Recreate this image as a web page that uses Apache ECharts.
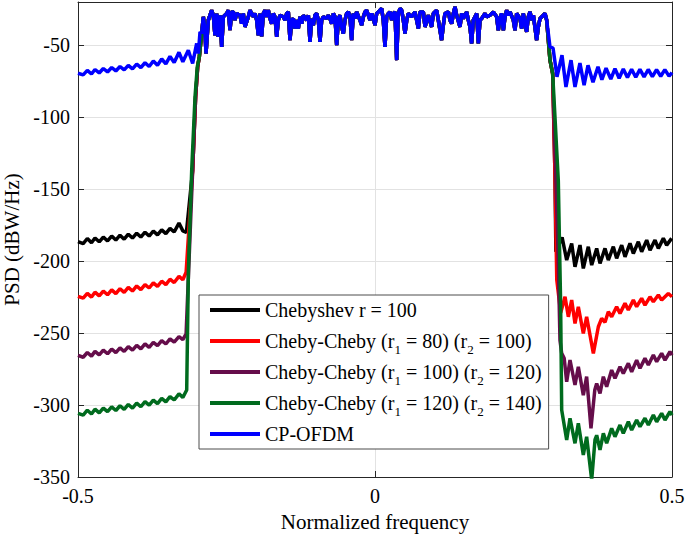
<!DOCTYPE html>
<html><head><meta charset="utf-8">
<script src="https://cdn.jsdelivr.net/npm/echarts@6/dist/echarts.min.js"></script>
<style>html,body{margin:0;padding:0;background:#fff}#c{width:685px;height:538px}</style>
</head><body><div id="c"></div>
<script>
// ---- axis ticks ----
const xTicks = [-0.5, 0, 0.5];
const yTicks = [-350, -300, -250, -200, -150, -100, -50];
const yTop = -20;

// ---- series names / legend labels ----
const seriesNames = ['Chebyshev r = 100', 'Cheby-Cheby (r1 = 80) (r2 = 100)', 'Cheby-Cheby (r1 = 100) (r2 = 120)', 'Cheby-Cheby (r1 = 120) (r2 = 140)', 'CP-OFDM'];
const legendLabels = ['Chebyshev r = 100', 'Cheby-Cheby (r{s|1} = 80) (r{s|2} = 100)', 'Cheby-Cheby (r{s|1} = 100) (r{s|2} = 120)', 'Cheby-Cheby (r{s|1} = 120) (r{s|2} = 140)', 'CP-OFDM'];
const seriesColors = ['#000000', '#ff0000', '#650d4a', '#006b1e', '#0000ff'];

// ---- shared passband (normalized frequency, dBW/Hz) ----
const passbandNeg = [[-0.2918,-41.9],[-0.2890,-30.3],[-0.2862,-40.0],[-0.2845,-55.8],[-0.2806,-32.6],[-0.2750,-25.7],[-0.2722,-29.2],[-0.2694,-43.1],[-0.2666,-28.0],[-0.2638,-44.2],[-0.2610,-29.2],[-0.2581,-51.2],[-0.2553,-30.3],[-0.2497,-28.0],[-0.2469,-25.7],[-0.2441,-39.6],[-0.2413,-26.9],[-0.2385,-26.9],[-0.2357,-32.6],[-0.2329,-28.0],[-0.2273,-29.2],[-0.2245,-35.0],[-0.2217,-28.0],[-0.2189,-37.3],[-0.2161,-33.8],[-0.2132,-30.3],[-0.2104,-25.7],[-0.2048,-30.3],[-0.2020,-28.0],[-0.1992,-32.6],[-0.1964,-43.1],[-0.1936,-28.0],[-0.1908,-43.8],[-0.1880,-28.0],[-0.1852,-25.7],[-0.1824,-30.3],[-0.1796,-25.7],[-0.1768,-31.5],[-0.1740,-35.0],[-0.1712,-28.0],[-0.1684,-30.3],[-0.1655,-44.2],[-0.1627,-32.6],[-0.1599,-29.2],[-0.1543,-30.3],[-0.1515,-32.6],[-0.1487,-28.0],[-0.1459,-26.9],[-0.1431,-46.5],[-0.1403,-32.6],[-0.1375,-31.5],[-0.1347,-38.4],[-0.1319,-32.6],[-0.1291,-38.4],[-0.1263,-30.3],[-0.1235,-35.0],[-0.1207,-29.2],[-0.1150,-32.6],[-0.1122,-29.2],[-0.1094,-47.7],[-0.1066,-31.5],[-0.1038,-36.1],[-0.1010,-29.2],[-0.0982,-28.0],[-0.0954,-32.6],[-0.0926,-47.7],[-0.0898,-32.6],[-0.0870,-30.3],[-0.0814,-31.5],[-0.0786,-29.2],[-0.0758,-31.5],[-0.0730,-35.0],[-0.0701,-28.0],[-0.0673,-30.3],[-0.0645,-50.0],[-0.0617,-31.5],[-0.0589,-29.2],[-0.0561,-37.3],[-0.0533,-41.9],[-0.0505,-32.6],[-0.0477,-28.0],[-0.0449,-26.9],[-0.0421,-30.3],[-0.0393,-46.5],[-0.0365,-28.0],[-0.0337,-31.5],[-0.0309,-26.9],[-0.0253,-32.6],[-0.0224,-36.1],[-0.0196,-30.3],[-0.0168,-26.9],[-0.0140,-25.7],[-0.0112,-29.2],[-0.0084,-32.6],[-0.0056,-28.0],[-0.0028,-31.5]];
const passbandPos = [[0.0000,-36.1],[0.0028,-28.0],[0.0056,-26.9],[0.0084,-25.7],[0.0112,-24.5],[0.0140,-32.6],[0.0168,-51.2],[0.0196,-30.3],[0.0224,-28.0],[0.0253,-26.9],[0.0281,-32.6],[0.0309,-28.0],[0.0337,-26.9],[0.0365,-60.4],[0.0393,-28.0],[0.0421,-24.5],[0.0449,-25.7],[0.0477,-32.6],[0.0505,-41.9],[0.0533,-33.0],[0.0561,-28.0],[0.0617,-30.3],[0.0673,-26.9],[0.0730,-38.4],[0.0758,-26.9],[0.0814,-26.9],[0.0842,-37.3],[0.0898,-29.2],[0.0954,-37.3],[0.0982,-28.0],[0.1038,-25.7],[0.1066,-32.6],[0.1122,-46.5],[0.1150,-36.1],[0.1178,-28.0],[0.1235,-26.9],[0.1263,-32.6],[0.1291,-35.0],[0.1319,-28.0],[0.1347,-23.4],[0.1375,-29.2],[0.1431,-37.3],[0.1459,-28.0],[0.1487,-31.5],[0.1543,-26.9],[0.1571,-32.6],[0.1599,-37.3],[0.1627,-48.8],[0.1655,-32.6],[0.1684,-30.3],[0.1712,-28.0],[0.1740,-48.8],[0.1768,-32.6],[0.1796,-31.5],[0.1852,-28.0],[0.1880,-30.3],[0.1936,-29.2],[0.1992,-26.9],[0.2048,-30.3],[0.2076,-39.6],[0.2104,-31.5],[0.2132,-28.0],[0.2161,-39.6],[0.2189,-30.3],[0.2217,-25.7],[0.2245,-29.2],[0.2273,-26.9],[0.2329,-32.6],[0.2357,-39.6],[0.2385,-28.0],[0.2441,-31.5],[0.2469,-38.4],[0.2497,-28.0],[0.2525,-35.0],[0.2553,-40.7],[0.2581,-30.3],[0.2610,-26.9],[0.2638,-32.6],[0.2666,-29.2],[0.2722,-46.5],[0.2750,-37.3],[0.2778,-31.5],[0.2834,-29.2],[0.2862,-28.0],[0.2890,-32.6]];

// ---- CP-OFDM out-of-band ----
const blueLeft = [[-0.5000,-69.5],[-0.4913,-70.6],[-0.4843,-67.5],[-0.4773,-70.0],[-0.4714,-66.9],[-0.4643,-69.3],[-0.4574,-66.2],[-0.4503,-68.6],[-0.4433,-65.5],[-0.4363,-67.9],[-0.4293,-64.8],[-0.4223,-67.2],[-0.4153,-64.0],[-0.4083,-66.4],[-0.4012,-63.1],[-0.3942,-65.6],[-0.3872,-62.2],[-0.3802,-64.8],[-0.3732,-61.0],[-0.3662,-63.9],[-0.3591,-59.6],[-0.3521,-63.0],[-0.3451,-57.8],[-0.3381,-62.0],[-0.3300,-55.0],[-0.3235,-61.5],[-0.3143,-53.5],[-0.3070,-62.7],[-0.3002,-48.8],[-0.2974,-55.8],[-0.2946,-40.8]];
const blueRight = [[0.2918,-41.9],[0.2946,-51.2],[0.2997,-52.0],[0.3064,-72.0],[0.3148,-57.0],[0.3215,-79.0],[0.3300,-60.4],[0.3367,-79.0],[0.3450,-62.5],[0.3520,-77.8],[0.3586,-64.0],[0.3670,-75.7],[0.3754,-65.0],[0.3820,-74.0],[0.3890,-66.0],[0.3970,-73.6],[0.4040,-66.3],[0.4110,-73.0],[0.4180,-66.5],[0.4250,-72.5],[0.4320,-66.7],[0.4390,-72.3],[0.4460,-66.8],[0.4530,-72.0],[0.4600,-66.9],[0.4670,-71.8],[0.4740,-67.0],[0.4810,-71.6],[0.4880,-67.0],[0.4950,-71.5],[0.5000,-69.0]];

// ---- filtered band edges ----
const riseLeft = [[-0.3070,-137],[-0.3020,-86],[-0.2985,-65],[-0.2957,-58]];
const riseLeftGreen = [[-0.3141,-206],[-0.3086,-137],[-0.3030,-86],[-0.2992,-65],[-0.2957,-58]];
const fallRight = [[0.2946,-60.4],[0.2991,-69.7]];

// ---- Chebyshev r = 100 ----
const blackLeft = [[-0.5000,-186.5],[-0.4913,-187.8],[-0.4843,-184.3],[-0.4773,-187.2],[-0.4714,-183.9],[-0.4643,-186.6],[-0.4574,-183.3],[-0.4503,-186.0],[-0.4433,-182.6],[-0.4363,-185.4],[-0.4293,-182.0],[-0.4223,-184.8],[-0.4153,-181.3],[-0.4083,-184.0],[-0.4012,-180.6],[-0.3942,-183.3],[-0.3872,-179.9],[-0.3802,-182.6],[-0.3732,-179.1],[-0.3662,-181.8],[-0.3591,-178.3],[-0.3521,-180.9],[-0.3451,-177.3],[-0.3381,-179.8],[-0.3300,-173.6],[-0.3235,-179.0],[-0.3175,-180.0]];
const blackRight = [[0.3030,-140.0],[0.3045,-193.5],[0.3150,-183.5],[0.3227,-199.3],[0.3311,-187.7],[0.3367,-204.0],[0.3451,-188.9],[0.3507,-205.1],[0.3591,-190.0],[0.3648,-202.8],[0.3732,-191.2],[0.3788,-201.6],[0.3872,-191.2],[0.3928,-199.3],[0.4012,-190.0],[0.4068,-198.1],[0.4153,-188.9],[0.4209,-197.0],[0.4293,-187.7],[0.4349,-194.7],[0.4433,-186.6],[0.4489,-193.5],[0.4574,-185.4],[0.4630,-192.4],[0.4714,-185.4],[0.4770,-191.2],[0.4854,-184.2],[0.4910,-188.9],[0.4994,-184.2],[0.5000,-184.6]];

// ---- Cheby-Cheby (r1 = 80) (r2 = 100) ----
const redLeft = [[-0.5000,-224.5],[-0.4913,-225.8],[-0.4843,-222.4],[-0.4773,-225.0],[-0.4714,-221.6],[-0.4643,-224.2],[-0.4574,-220.8],[-0.4503,-223.4],[-0.4433,-220.0],[-0.4363,-222.6],[-0.4293,-219.2],[-0.4223,-221.7],[-0.4153,-218.3],[-0.4083,-220.8],[-0.4012,-217.3],[-0.3942,-219.8],[-0.3872,-216.3],[-0.3802,-218.7],[-0.3732,-215.2],[-0.3662,-217.6],[-0.3591,-214.0],[-0.3521,-216.3],[-0.3451,-212.6],[-0.3381,-214.9],[-0.3300,-210.6],[-0.3235,-213.0],[-0.3180,-207.8]];
const redRight = [[0.3030,-140.0],[0.3060,-213.0],[0.3126,-236.0],[0.3199,-224.8],[0.3255,-238.7],[0.3311,-227.1],[0.3367,-243.3],[0.3423,-231.7],[0.3507,-250.2],[0.3563,-238.7],[0.3676,-264.1],[0.3760,-245.6],[0.3816,-239.8],[0.3872,-242.5],[0.3928,-235.2],[0.3984,-238.7],[0.4068,-231.7],[0.4125,-236.3],[0.4209,-229.4],[0.4265,-234.0],[0.4349,-227.1],[0.4405,-231.7],[0.4489,-225.9],[0.4545,-230.6],[0.4630,-224.8],[0.4686,-228.2],[0.4770,-223.6],[0.4826,-227.1],[0.4938,-222.5],[0.5000,-224.8]];

// ---- Cheby-Cheby (r1 = 100) (r2 = 120) ----
const purpleLeft = [[-0.5000,-265.5],[-0.4913,-266.8],[-0.4843,-263.5],[-0.4773,-266.0],[-0.4714,-262.7],[-0.4643,-265.2],[-0.4574,-261.9],[-0.4503,-264.4],[-0.4433,-261.1],[-0.4363,-263.6],[-0.4293,-260.3],[-0.4223,-262.8],[-0.4153,-259.4],[-0.4083,-261.9],[-0.4012,-258.5],[-0.3942,-261.0],[-0.3872,-257.5],[-0.3802,-259.9],[-0.3732,-256.5],[-0.3662,-258.8],[-0.3591,-255.3],[-0.3521,-257.6],[-0.3451,-254.1],[-0.3381,-256.3],[-0.3300,-252.5],[-0.3235,-254.5],[-0.3180,-250.5]];
const purpleRight = [[0.3050,-150.0],[0.3086,-200.0],[0.3114,-255.0],[0.3143,-264.1],[0.3185,-267.6],[0.3227,-283.8],[0.3283,-268.8],[0.3367,-286.1],[0.3423,-273.4],[0.3507,-293.1],[0.3563,-280.3],[0.3636,-316.2],[0.3700,-289.6],[0.3732,-285.0],[0.3788,-291.9],[0.3844,-280.3],[0.3900,-287.3],[0.3984,-275.7],[0.4040,-281.5],[0.4125,-273.4],[0.4180,-278.0],[0.4265,-271.0],[0.4321,-276.9],[0.4405,-268.8],[0.4461,-274.5],[0.4545,-267.6],[0.4602,-272.2],[0.4686,-265.3],[0.4742,-269.9],[0.4826,-264.1],[0.4882,-268.8],[0.4966,-263.0],[0.5000,-265.3]];

// ---- Cheby-Cheby (r1 = 120) (r2 = 140) ----
const greenLeft = [[-0.5000,-305.8],[-0.4913,-307.0],[-0.4843,-303.6],[-0.4773,-306.2],[-0.4714,-302.9],[-0.4643,-305.4],[-0.4574,-302.1],[-0.4503,-304.6],[-0.4433,-301.3],[-0.4363,-303.8],[-0.4293,-300.5],[-0.4223,-303.0],[-0.4153,-299.6],[-0.4083,-302.1],[-0.4012,-298.7],[-0.3942,-301.2],[-0.3872,-297.7],[-0.3802,-300.1],[-0.3732,-296.6],[-0.3662,-299.0],[-0.3591,-295.4],[-0.3521,-297.8],[-0.3451,-294.1],[-0.3381,-296.5],[-0.3300,-292.2],[-0.3235,-294.8],[-0.3170,-289.6]];
const greenRight = [[0.3030,-100.0],[0.3059,-123.0],[0.3086,-144.0],[0.3125,-230.0],[0.3143,-303.5],[0.3227,-324.3],[0.3283,-309.2],[0.3367,-326.6],[0.3423,-312.7],[0.3507,-334.7],[0.3563,-322.0],[0.3648,-352.0],[0.3704,-324.0],[0.3732,-321.0],[0.3788,-331.2],[0.3844,-319.7],[0.3900,-326.6],[0.3984,-316.2],[0.4040,-322.0],[0.4125,-313.9],[0.4180,-319.7],[0.4265,-311.6],[0.4321,-317.4],[0.4405,-310.4],[0.4461,-315.0],[0.4545,-309.2],[0.4602,-313.9],[0.4686,-306.9],[0.4742,-311.6],[0.4826,-305.8],[0.4882,-310.4],[0.4966,-304.6],[0.5000,-307.0]];

// ---- assemble ----
const passband = passbandNeg.concat(passbandPos);
const seriesData = [
  blackLeft.concat(riseLeft, passband, fallRight, blackRight),
  redLeft.concat(riseLeft, passband, fallRight, redRight),
  purpleLeft.concat(riseLeft, passband, fallRight, purpleRight),
  greenLeft.concat(riseLeftGreen, passband, fallRight, greenRight),
  blueLeft.concat(passband, blueRight)
];

const FONT = '"Liberation Serif", "Times New Roman", serif';
const AXC = '#262626';
const chart = echarts.init(document.getElementById('c'), null, {renderer: 'svg'});
const yStep = yTicks[1] - yTicks[0];
const xStep = xTicks[1] - xTicks[0];

const baseX = {type: 'value', min: xTicks[0], max: xTicks[xTicks.length - 1], interval: xStep};
const baseY = {type: 'value', min: yTicks[0], max: yTop, interval: yStep};

chart.setOption({
  animation: false,
  backgroundColor: '#ffffff',
  grid: {left: 78, right: 13, top: 2, bottom: 61, containLabel: false, outerBoundsMode: 'none'},
  xAxis: [
    Object.assign({}, baseX, {
      position: 'bottom',
      axisLine: {show: true, onZero: false, lineStyle: {color: AXC, width: 1}},
      axisTick: {show: true, inside: true, length: 6, lineStyle: {color: AXC}},
      axisLabel: {show: true, margin: 9, color: '#000', fontFamily: FONT, fontSize: 20},
      splitLine: {show: true, lineStyle: {color: '#e2e2e2', width: 1}},
      name: 'Normalized frequency', nameLocation: 'middle', nameGap: 34,
      nameTextStyle: {color: '#000', fontFamily: FONT, fontSize: 21}
    }),
    Object.assign({}, baseX, {
      position: 'top',
      axisLine: {show: true, onZero: false, lineStyle: {color: AXC, width: 1}},
      axisTick: {show: true, inside: true, length: 6, lineStyle: {color: AXC}},
      axisLabel: {show: false}, splitLine: {show: false}
    })
  ],
  yAxis: [
    Object.assign({}, baseY, {
      position: 'left',
      axisLine: {show: true, onZero: false, lineStyle: {color: AXC, width: 1}},
      axisTick: {show: true, inside: true, length: 6, lineStyle: {color: AXC}},
      axisLabel: {show: true, margin: 8, showMaxLabel: false, color: '#000', fontFamily: FONT, fontSize: 20},
      splitLine: {show: true, lineStyle: {color: '#e2e2e2', width: 1}},
      name: 'PSD (dBW/Hz)', nameLocation: 'middle', nameGap: 52,
      nameTextStyle: {color: '#000', fontFamily: FONT, fontSize: 21}
    }),
    Object.assign({}, baseY, {
      position: 'right',
      axisLine: {show: true, onZero: false, lineStyle: {color: AXC, width: 1}},
      axisTick: {show: true, inside: true, length: 6, lineStyle: {color: AXC}},
      axisLabel: {show: false}, splitLine: {show: false}
    })
  ],
  legend: {
    orient: 'vertical', left: 199, top: 295,
    padding: [0, 7, 0, 11], itemGap: 1, itemWidth: 50, itemHeight: 4,
    icon: 'rect',
    backgroundColor: '#ffffff', borderColor: '#4d4d4d', borderWidth: 1, borderRadius: 0,
    data: seriesNames,
    formatter: function (name) { return legendLabels[seriesNames.indexOf(name)]; },
    textStyle: {color: '#000', fontFamily: FONT, fontSize: 20, lineHeight: 30,
      rich: {s: {color: '#000', fontFamily: FONT, fontSize: 13, lineHeight: 10, verticalAlign: 'bottom'}}}
  },
  series: seriesData.map(function (d, i) {
    return {
      name: seriesNames[i], type: 'line', data: d, xAxisIndex: 0, yAxisIndex: 0,
      symbol: 'none', showSymbol: false, clip: true,
      lineStyle: {color: seriesColors[i], width: 3.5},
      itemStyle: {color: seriesColors[i]},
      emphasis: {disabled: true}, z: 2 + i
    };
  })
});
</script>
</body></html>
